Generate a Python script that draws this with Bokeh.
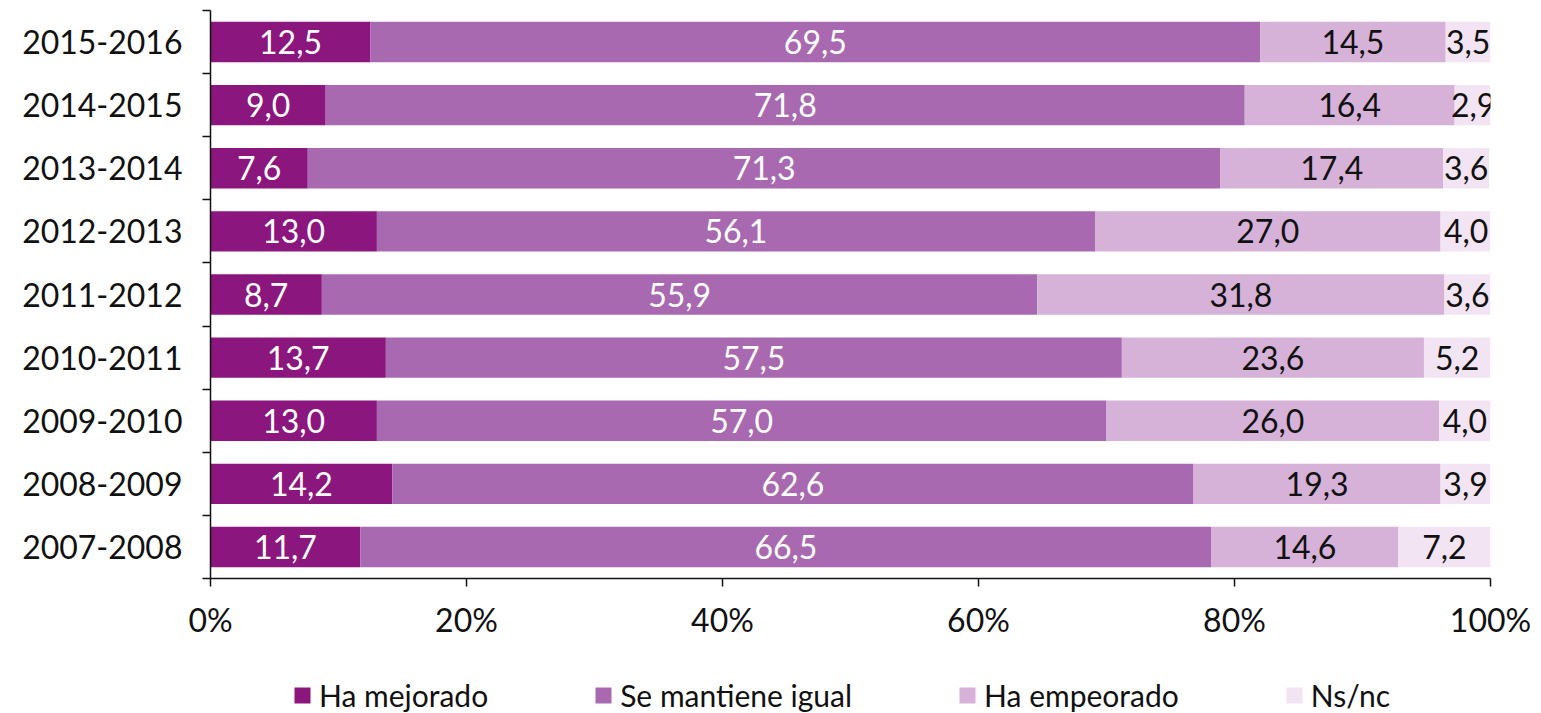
from bokeh.plotting import figure
from bokeh.layouts import column
from bokeh.models import (ColumnDataSource, FixedTicker, Legend, LegendItem,
                          PrintfTickFormatter, Range1d)
from bokeh.core.properties import value
from bokeh.embed import file_html
from bokeh.resources import INLINE

years = ["2015-2016", "2014-2015", "2013-2014", "2012-2013", "2011-2012",
         "2010-2011", "2009-2010", "2008-2009", "2007-2008"]
mejorado = [12.5, 9.0, 7.6, 13.0, 8.7, 13.7, 13.0, 14.2, 11.7]
igual = [69.5, 71.8, 71.3, 56.1, 55.9, 57.5, 57.0, 62.6, 66.5]
empeorado = [14.5, 16.4, 17.4, 27.0, 31.8, 23.6, 26.0, 19.3, 14.6]
nsnc = [3.5, 2.9, 3.6, 4.0, 3.6, 5.2, 4.0, 3.9, 7.2]
series_names = ["Ha mejorado", "Se mantiene igual", "Ha empeorado", "Ns/nc"]
colors = ["#8b167d", "#a969b1", "#d6b1d8", "#f2e4f2"]
text_colors = ["white", "white", "#111111", "#111111"]
xticks = [0, 20, 40, 60, 80, 100]

FONT = "Lato"
n = len(years)
ypos = [n - 1 - i for i in range(n)]

p = figure(frame_width=1280, frame_height=568, output_backend="svg", toolbar_location=None,
           x_range=Range1d(0, 100), y_range=Range1d(-0.5, n - 0.5),
           min_border_left=210, min_border_right=43, min_border_top=10,
           min_border_bottom=70)
p.outline_line_color = None
p.grid.visible = False
p.background_fill_color = "white"

all_series = [mejorado, igual, empeorado, nsnc]
bar_sources = []
left = [0.0] * n
for k, vals in enumerate(all_series):
    right = [l + v for l, v in zip(left, vals)]
    src = ColumnDataSource(dict(
        y=ypos, left=left, right=right,
        mid=[(l + r) / 2 for l, r in zip(left, right)],
        lab=[f"{v:.1f}".replace(".", ",") for v in vals]))
    bar_sources.append(src)
    p.hbar(y="y", left="left", right="right", height=0.64, source=src,
           fill_color=colors[k], line_color=None)
    p.text(x="mid", y="y", text="lab", source=src, text_align="center",
           text_baseline="middle", text_font=value(FONT), text_font_size="32px",
           text_color=text_colors[k])
    left = right

# axes
xa = p.xaxis[0]
xa.ticker = FixedTicker(ticks=xticks)
xa.formatter = PrintfTickFormatter(format="%d%%")
xa.major_tick_out = 8
xa.major_tick_in = 0
xa.minor_tick_line_color = None
xa.major_label_standoff = 13
xa.major_label_text_font = FONT
xa.major_label_text_font_size = "32px"
xa.major_label_text_color = "#111111"
xa.axis_line_width = 1.5
xa.major_tick_line_width = 1.5
xa.axis_line_color = "#111111"
xa.major_tick_line_color = "#111111"

ya = p.yaxis[0]
ya.ticker = FixedTicker(ticks=ypos, minor_ticks=[i - 0.5 for i in range(n + 1)])
ya.major_label_overrides = {y: lab for y, lab in zip(ypos, years)}
ya.major_tick_line_color = None
ya.major_tick_out = 0
ya.major_tick_in = 0
ya.minor_tick_out = 8
ya.minor_tick_in = 0
ya.minor_tick_line_width = 1.5
ya.minor_tick_line_color = "#111111"
ya.axis_line_width = 1.5
ya.axis_line_color = "#111111"
ya.major_label_standoff = 20
ya.major_label_text_font = FONT
ya.major_label_text_font_size = "32px"
ya.major_label_text_color = "#111111"

# legend in its own strip below the chart (same bar sources, drawn out of view)
lg = figure(width=1533, height=65, output_backend="svg", toolbar_location=None,
            x_axis_type=None, y_axis_type=None,
            x_range=Range1d(0, 100), y_range=Range1d(100, 101),
            min_border_left=0, min_border_right=0, min_border_top=0, min_border_bottom=0)
lg.grid.visible = False
lg.outline_line_color = None
items = []
for nm, c, src in zip(series_names, colors, bar_sources):
    r = lg.hbar(y="y", left="left", right="right", height=0.64, source=src,
                fill_color=c, line_color=None)
    items.append(LegendItem(label=nm, renderers=[r]))
legend = Legend(items=items, orientation="horizontal", location=(82, 0), spacing=105,
                glyph_width=20, glyph_height=20, label_standoff=7,
                label_text_font=FONT, label_text_font_size="30px",
                label_height=20, label_text_baseline="middle",
                label_text_color="#111111", border_line_color=None,
                background_fill_alpha=0, margin=0, padding=0)
lg.add_layout(legend, "center")

open("out.html", "w").write(file_html(column(p, lg, spacing=0), INLINE))
